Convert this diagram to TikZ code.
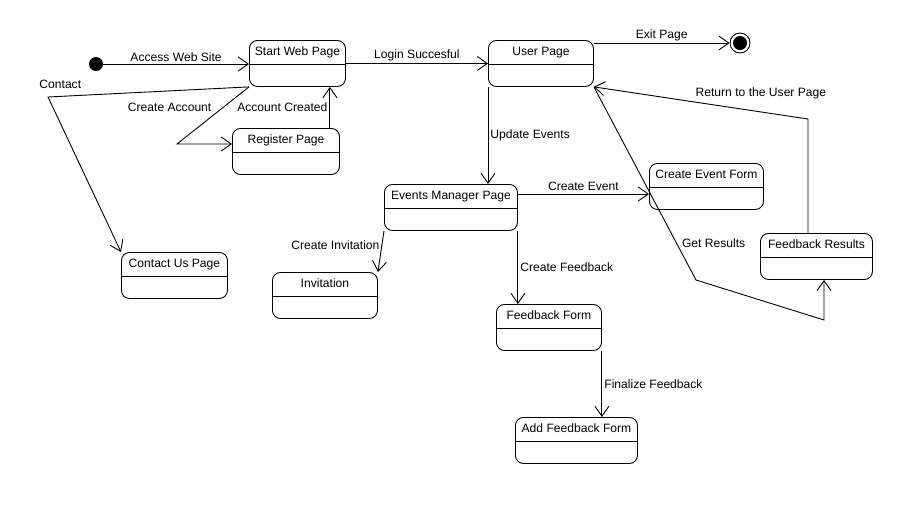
\documentclass[tikz,border=0pt]{standalone}
\usepackage{fontspec}
\setmainfont{Liberation Sans}
\usepackage{tikz}
\usetikzlibrary{
    arrows.meta,
    positioning,
    calc
}
\tikzset{
    % Base style for all texts
    uml base/.style={
        font=\fontsize{12.1pt}{14pt}\selectfont,
        text=black,
    },
    % State boxes - rounded rectangle with a divider under the title
    state box/.style={
        uml base,
        draw,
        rectangle,
        rounded corners=8pt,
        line width=0.9pt,
        anchor=north west,
        minimum width=105pt,
        minimum height=46pt,
        inner xsep=4pt,
        inner ysep=4pt,
        text height=11pt,
        text depth=27pt,
        path picture={
            \draw[line width=0.9pt]
                ([yshift=-24pt]path picture bounding box.north west) --
                ([yshift=-24pt]path picture bounding box.north east);
        },
    },
    % Initial pseudo state
    initial dot/.style={
        circle,
        fill=black,
        minimum size=14pt,
        inner sep=0pt,
    },
    % Final state - ring with a filled dot
    final dot/.style={
        circle,
        draw,
        line width=0.9pt,
        minimum size=20pt,
        inner sep=0pt,
        path picture={
            \fill (path picture bounding box.center) circle (7pt);
        },
    },
    % Transition arrow - open V tip
    trans/.style={
        line width=0.9pt,
        -{Straight Barb[length=10pt, width=14pt]},
    },
    % Label on transitions
    trans label/.style={
        uml base,
        inner sep=2pt,
    },
}

\begin{document}
\begin{tikzpicture}[x=1pt, y=-1pt]
    \fill[white] (0,0) rectangle (910,515);
    \useasboundingbox (0,0) rectangle (910,515);

    \node (init) [initial dot] at (96,64) {};
    \node (fin) [final dot] at (740,43) {};
    \node (web) [state box, minimum width=96pt] at (249,40) {Start Web Page};
    \node (reg) [state box, minimum width=107pt] at (232,128) {Register Page};
    \node (user) [state box] at (488,40) {User Page};
    \node (evm) [state box, minimum width=133pt] at (384,184) {Events Manager Page};
    \node (inv) [state box] at (272,272) {Invitation};
    \node (cef) [state box, minimum width=114pt] at (649,163) {Create Event Form};
    \node (fr) [state box, minimum width=112pt] at (760,233) {Feedback Results};
    \node (ff) [state box] at (496,304) {Feedback Form};
    \node (aff) [state box, minimum width=122pt] at (515,417) {Add Feedback Form};
    \node (contact) [state box, minimum width=106pt] at (121,252) {Contact Us Page};

    % bend points
    \coordinate (ca) at (177,144);
    \coordinate (ct) at (48,97);
    \coordinate (gr1) at (696,280);
    \coordinate (gr2) at (824,320);
    \coordinate (rt) at (808,119);
    \coordinate (ac) at ([xshift=-10pt]reg.north east);
    \coordinate (ce) at ([yshift=-10pt]evm.north east);

    \draw [trans] (init) -- (web.west |- init) node [trans label, midway, above] {Access Web Site};
    \draw [trans] (web) -- (user) node [trans label, midway, above] {Login Succesful};
    \draw [trans] (web.south west) -- node [trans label, pos=0.35, left=10pt] {Create Account} (ca) -- (ca -| reg.west);
    \draw [trans] (ac) -- (ac |- web.south) node [trans label, midway, left] {Account Created};
    \draw [trans] (web.south west) -- (ct) node [trans label, above right, xshift=-11pt, yshift=6pt] {Contact} -- (contact.north west);
    \draw [trans] (user.east |- fin) -- (fin) node [trans label, midway, above] {Exit Page};
    \draw [trans] (user.south west) -- (user.south west |- evm.north) node [trans label, midway, right] {Update Events};
    \draw [trans] (ce) -- (ce -| cef.west) node [trans label, midway, above=1pt] {Create Event};
    \draw [trans] (evm.south west) -- (inv.north east) node [trans label, pos=0.35, left] {Create Invitation};
    \draw [trans] (evm.south east) -- (evm.south east |- ff.north) node [trans label, midway, right] {Create Feedback};
    \draw [trans] (ff.south east) -- (ff.south east |- aff.north) node [trans label, midway, right] {Finalize Feedback};
    \draw [trans] (user.south east) -- node [trans label, pos=0.81, right=3pt] {Get Results} (gr1) -- (gr2) -- (gr2 |- fr.south);
    \draw [trans] (rt |- fr.north) -- (rt) -- node [trans label, pos=0.22, above=10pt] {Return to the User Page} (user.south east);
\end{tikzpicture}
\end{document}
